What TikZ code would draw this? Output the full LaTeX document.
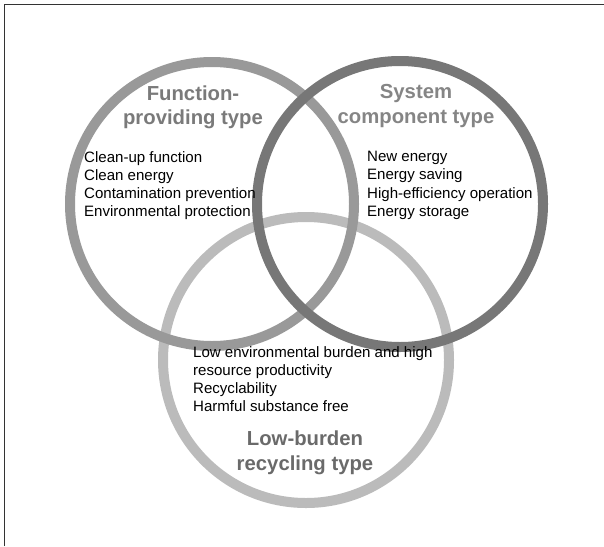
\documentclass[tikz,border=0pt]{standalone}
\usepackage{fontspec}
\setmainfont{Liberation Sans}
\definecolor{ringA}{HTML}{999999}
\definecolor{ringB}{HTML}{777777}
\definecolor{ringC}{HTML}{BBBBBB}
\definecolor{titA}{HTML}{7A7A7A}
\definecolor{titB}{HTML}{858585}
\definecolor{titC}{HTML}{6A6A6A}
\definecolor{framecol}{HTML}{333333}
\tikzset{
  ring/.style={line width=10pt},
  title/.style={font=\fontsize{20.3}{24.5}\selectfont\bfseries, align=center, anchor=north, inner sep=0pt},
  body/.style={font=\fontsize{15.05}{18.2}\selectfont, align=left, anchor=north west, inner sep=0pt, text=black},
}
\begin{document}
\begin{tikzpicture}[x=1pt,y=-1pt]
\useasboundingbox (0,0) rectangle (604,546);
% frame
\coordinate (fbl) at (4.5,546);
\coordinate (ftl) at (4.5,4.5);
\coordinate (ftr) at (604,4.5);
\draw[line width=1.5pt, framecol] (fbl) -- (ftl) -- (ftr);
% circles
\coordinate (cC) at (306,360);
\coordinate (cA) at (212,204);
\coordinate (cB) at (400,204);
\draw[ring, ringC] (cC) circle[radius=143];
\draw[ring, ringA] (cA) circle[radius=142];
\draw[ring, ringB] (cB) circle[radius=143];
% titles
\node[title, text=titA] (tA) at (193,85.5) {Function-\\providing type};
\node[title, text=titB] (tB) at (416,84.5) {System\\component type};
\node[title, text=titC] (tC) at (305,431) {Low-burden\\recycling type};
% bodies
\node[body] (bA) at (84,151.2) {Clean-up function\\Clean energy\\Contamination prevention\\Environmental protection};
\node[body] (bB) at (367,151.2) {New energy\\Energy saving\\High-efficiency operation\\Energy storage};
\node[body] (bC) at (193,346.2) {Low environmental burden and high\\resource productivity\\Recyclability\\Harmful substance free};
\end{tikzpicture}
\end{document}
